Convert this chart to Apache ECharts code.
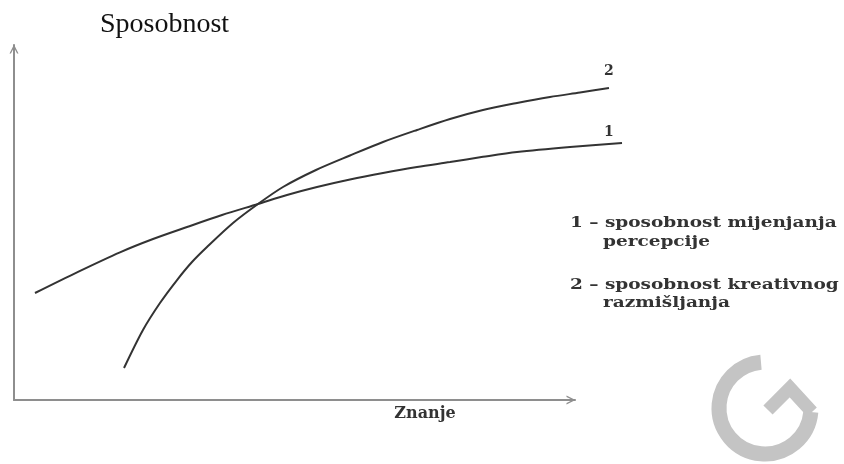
<!DOCTYPE html>
<html>
<head>
<meta charset="utf-8">
<script src="https://cdn.jsdelivr.net/npm/echarts@6/dist/echarts.min.js"></script>
<style>html,body{margin:0;padding:0;background:#fff;}#c{width:844px;height:464px;}</style>
</head>
<body>
<div id="c"></div>
<script>
// Curve 1: sposobnost mijenjanja percepcije
const curve1X = [3.74, 11.41, 18.89, 24.78, 30.84, 37.08, 43.49, 48.66, 54.01, 59.89, 65.78, 71.84, 77.72, 83.60, 89.66, 99.11, 108.38];
const curve1Y = [30.14, 36.10, 41.60, 45.35, 48.73, 52.11, 55.21, 57.75, 60.00, 62.11, 63.94, 65.63, 67.04, 68.50, 69.86, 71.27, 72.39];
// Curve 2: sposobnost kreativnog razmišljanja
const curve2X = [19.61, 22.99, 26.02, 29.06, 31.73, 34.40, 39.04, 43.49, 47.95, 53.83, 59.89, 65.78, 71.84, 77.72, 83.60, 89.66, 95.54, 100.89, 106.06];
const curve2Y = [9.01, 19.72, 27.32, 33.80, 38.87, 43.10, 49.86, 55.21, 60.00, 64.79, 68.87, 72.68, 76.06, 79.15, 81.69, 83.66, 85.35, 86.62, 87.89];
const curveNames = ['1', '2'];
const legendLines = [
  ['1 – sposobnost mijenjanja', 'percepcije'],
  ['2 – sposobnost kreativnog', 'razmišljanja']
];
const xAxisName = 'Znanje';
const yAxisName = 'Sposobnost';
const axisRange = [0, 100];     // visible axes
const dataXRange = [0, 110];    // data extends beyond the arrow of the x axis

const chevron = 'path://M0,10 L5,0 L10,10 L8.4,10 L5,3.2 L1.6,10 Z';
const axisColor = '#8e8e8e';
const lineColor = '#333333';
const serifBold = '"DejaVu Serif", serif';

function zip(xs, ys) { return xs.map((x, i) => [x, ys[i]]); }

const plotLeft = 14, plotWidth = 561, plotTop = 45, plotBottom = 64;
const dataRight = 844 - plotLeft - plotWidth * (dataXRange[1] - dataXRange[0]) / (axisRange[1] - axisRange[0]);

const hidden = { axisLine: { show: false }, axisTick: { show: false }, axisLabel: { show: false }, splitLine: { show: false } };

const chart = echarts.init(document.getElementById('c'));
chart.setOption({
  animation: false,
  backgroundColor: '#ffffff',
  grid: [
    { left: plotLeft, right: 844 - plotLeft - plotWidth, top: plotTop, bottom: plotBottom },
    { left: plotLeft, right: dataRight, top: plotTop, bottom: plotBottom }
  ],
  xAxis: [
    {
      type: 'value', gridIndex: 0, min: axisRange[0], max: axisRange[1],
      name: xAxisName, nameLocation: 'end', nameGap: -150,
      nameTextStyle: { fontFamily: serifBold, fontWeight: 'bold', fontSize: 16, color: '#333',
        align: 'center', verticalAlign: 'top', padding: [6, 0, 0, 0] },
      axisLine: { show: true, onZero: false, symbol: ['none', chevron], symbolSize: [10, 9], symbolOffset: [0, -4],
        lineStyle: { color: axisColor, width: 2 } },
      axisTick: { show: false }, axisLabel: { show: false }, splitLine: { show: false }
    },
    Object.assign({ type: 'value', gridIndex: 1, min: dataXRange[0], max: dataXRange[1] }, hidden)
  ],
  yAxis: [
    {
      type: 'value', gridIndex: 0, min: axisRange[0], max: axisRange[1],
      name: yAxisName, nameLocation: 'end', nameGap: 6,
      nameTextStyle: { fontFamily: '"Liberation Serif", serif', fontSize: 28, color: '#111',
        align: 'left', verticalAlign: 'bottom', padding: [0, 0, 0, 86] },
      axisLine: { show: true, onZero: false, symbol: ['none', chevron], symbolSize: [10, 9], symbolOffset: [0, -4],
        lineStyle: { color: axisColor, width: 2 } },
      axisTick: { show: false }, axisLabel: { show: false }, splitLine: { show: false }
    },
    Object.assign({ type: 'value', gridIndex: 1, min: axisRange[0], max: axisRange[1] }, hidden)
  ],
  series: [
    {
      type: 'line', name: curveNames[0], xAxisIndex: 1, yAxisIndex: 1, data: zip(curve1X, curve1Y),
      smooth: 0.3, showSymbol: false,
      lineStyle: { color: lineColor, width: 2 },
      endLabel: { show: true, formatter: curveNames[0], distance: 0, offset: [-18, -11],
        fontFamily: serifBold, fontWeight: 'bold', fontSize: 14, color: '#333' }
    },
    {
      type: 'line', name: curveNames[1], xAxisIndex: 1, yAxisIndex: 1, data: zip(curve2X, curve2Y),
      smooth: 0.3, showSymbol: false,
      lineStyle: { color: lineColor, width: 2 },
      endLabel: { show: true, formatter: curveNames[1], distance: 0, offset: [-5, -17],
        fontFamily: serifBold, fontWeight: 'bold', fontSize: 14, color: '#333' }
    }
  ],
  graphic: [
    { type: 'text', x: 570, y: 216, scaleX: 1.32, style: { text: legendLines[0][0], font: 'bold 14px ' + serifBold, fill: '#333' } },
    { type: 'text', x: 603, y: 235, scaleX: 1.32, style: { text: legendLines[0][1], font: 'bold 14px ' + serifBold, fill: '#333' } },
    { type: 'text', x: 570, y: 278, scaleX: 1.32, style: { text: legendLines[1][0], font: 'bold 14px ' + serifBold, fill: '#333' } },
    { type: 'text', x: 603, y: 296, scaleX: 1.32, style: { text: legendLines[1][1], font: 'bold 14px ' + serifBold, fill: '#333' } },
    // watermark "G"
    { type: 'arc', silent: true, z: -1,
      shape: { cx: 765, cy: 408, r: 46, startAngle: 5 * Math.PI / 180, endAngle: 265 * Math.PI / 180, clockwise: true },
      style: { stroke: '#c4c4c4', lineWidth: 15, fill: null } },
    { type: 'polyline', silent: true, z: -1,
      shape: { points: [[812, 412], [790, 388], [768, 410]] },
      style: { stroke: '#c4c4c4', lineWidth: 13, fill: null } }
  ]
});
</script>
</body>
</html>
